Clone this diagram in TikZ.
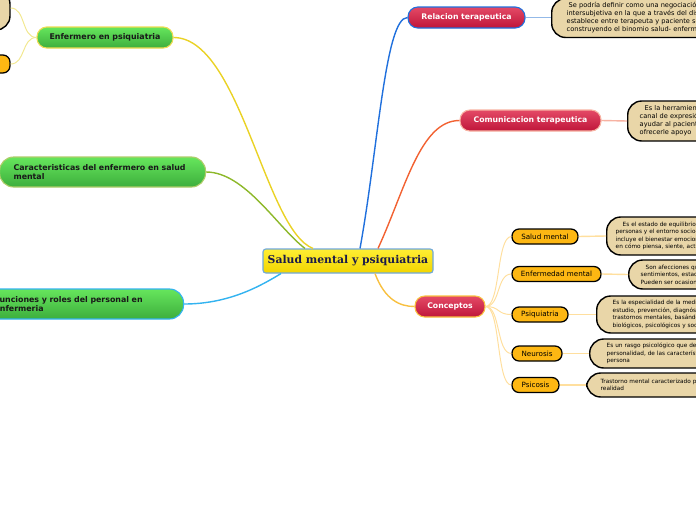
\documentclass[tikz,border=0pt]{standalone}
\usepackage{fontspec}
\setmainfont{DejaVu Sans}
\newfontfamily\titlefont{DejaVu Serif}
\usetikzlibrary{calc}

\newcommand\pxu{0.025cm}

\definecolor{cenTop}{HTML}{FFEE33}
\definecolor{cenBot}{HTML}{F2D500}
\definecolor{cenLine}{HTML}{6FA8DC}
\definecolor{cenText}{HTML}{1A1A4A}
\definecolor{grnTop}{HTML}{66E65C}
\definecolor{grnBot}{HTML}{3DAE3D}
\definecolor{redTop}{HTML}{E44A66}
\definecolor{redBot}{HTML}{BF153A}
\definecolor{subFill}{HTML}{FDB713}
\definecolor{noteFill}{HTML}{E9D6A8}
\definecolor{lnYellow}{HTML}{EAD225}
\definecolor{lnOlive}{HTML}{8DB82A}
\definecolor{lnSky}{HTML}{33B3F0}
\definecolor{lnBlue}{HTML}{2070DD}
\definecolor{lnOrange}{HTML}{F26232}
\definecolor{lnGold}{HTML}{F8C040}
\definecolor{lnPale}{HTML}{FFDF9E}
\definecolor{lnPaleBlue}{HTML}{93B9E8}
\definecolor{lnSalmon}{HTML}{F7B2A2}
\definecolor{lnPaleYel}{HTML}{F2E890}

\begin{document}
\begin{tikzpicture}[x=\pxu, y=-\pxu,
    central/.style={draw=cenLine, line width=0.8pt, top color=cenTop, bottom color=cenBot,
                    rounded corners=2pt, minimum width=170*\pxu, minimum height=24*\pxu,
                    inner sep=0pt, text=cenText, font=\titlefont\bfseries\fontsize{7.7}{8.5}\selectfont},
    topic/.style={line width=0.8pt, inner sep=0pt, align=center,
                  font=\bfseries\fontsize{5.6}{6.8}\selectfont},
    gtopic/.style={topic, top color=grnTop, bottom color=grnBot, text=black!90,
                   rounded corners=10pt, minimum height=30*\pxu},
    rtopic/.style={topic, top color=redTop, bottom color=redBot, text=white,
                   rounded corners=7pt, minimum height=21*\pxu, font=\bfseries\fontsize{5.5}{6.6}\selectfont},
    subbox/.style={draw=black, line width=0.9pt, fill=subFill, rounded corners=5pt,
                   minimum height=15*\pxu, inner sep=0pt, font=\fontsize{5.1}{6}\selectfont},
    note/.style={draw=black, line width=1pt, fill=noteFill, rounded corners=10pt,
                 anchor=west, align=left, text width=300*\pxu, inner ysep=0pt,
                 font=\fontsize{4.7}{5.7}\selectfont},
    snote/.style={note, font=\fontsize{4.1}{5.35}\selectfont},
    link/.style={line width=1pt},
    twig/.style={line width=0.7pt, lnPale}
]
\useasboundingbox (0,0) rectangle (696,520);
\clip (0,0) rectangle (696,520);

% ---- central topic ----
\node[central] (cen) at (348,261) {Salud mental y psiquiatria};

% ---- left branches ----
\node[gtopic, draw=lnYellow!80, minimum width=136*\pxu, minimum height=21*\pxu,
      rounded corners=7pt] (enf) at (105,37.5) {Enfermero en psiquiatria};
\node[gtopic, draw=lnOlive!70, anchor=west, align=left, text width=178*\pxu,
      inner xsep=14*\pxu] (car) at (-1,172)
      {Caracteristicas del enfermero en salud\\mental};
\node[gtopic, draw=lnSky, anchor=west, align=left, text width=175*\pxu,
      inner xsep=14*\pxu] (fun) at (-20,304)
      {Funciones y roles del personal en\\enfermeria};

\node[note, anchor=center, minimum width=70*\pxu, minimum height=40*\pxu,
      text width=0pt, inner xsep=0pt] (enf_note) at (-25,10) {};
\node[subbox, minimum width=50*\pxu, minimum height=18*\pxu] (enf_sub) at (-15,64) {};

% ---- right branches ----
\node[rtopic, draw=lnBlue, minimum width=117*\pxu] (rel) at (466.5,17.5) {Relacion terapeutica};
\node[rtopic, draw=lnSalmon, minimum width=141*\pxu] (com) at (530.5,120.5) {Comunicacion terapeutica};
\node[rtopic, draw=lnGold, minimum width=70*\pxu] (con) at (450,306.5) {Conceptos};

\node[note, minimum height=39*\pxu, inner xsep=15*\pxu] (rel_note) at (551,18)
    {\hspace*{1.4pt}Se podría definir como una negociación\\
     intersubjetiva en la que a través del discurso que se\\
     establece entre terapeuta y paciente se va\\
     construyendo el binomio salud- enfermedad};
\node[note, minimum height=40*\pxu, inner xsep=12*\pxu] (com_note) at (627,121)
    {\hspace*{3.5pt}Es la herramienta que\\canal de expresión\\ayudar al paciente a\\ofrecerle apoyo};

% ---- conceptos ----
\node[subbox, minimum width=66*\pxu] (salud)  at (545,236.5) {Salud mental};
\node[subbox, minimum width=89*\pxu] (enferm) at (556.5,274) {Enfermedad mental};
\node[subbox, minimum width=56*\pxu] (psiq)   at (540,314.5) {Psiquiatria};
\node[subbox, minimum width=50*\pxu] (neur)   at (537,353.5) {Neurosis};
\node[subbox, minimum width=47*\pxu] (psic)   at (535.5,385) {Psicosis};

\node[snote, minimum height=38*\pxu, inner xsep=9*\pxu] (salud_note) at (606,236)
    {\hspace*{5pt}Es el estado de equilibrio entre una\\personas y el entorno socio-cultural\\
     incluye el bienestar emocional\\en cómo piensa, siente, actúa};
\node[snote, minimum height=29*\pxu, inner xsep=12*\pxu] (enferm_note) at (628,274.5)
    {\hspace*{3.5pt}Son afecciones que\\sentimientos, estado de ánimo\\Pueden ser ocasionales};
\node[snote, minimum height=37*\pxu, inner xsep=16*\pxu] (psiq_note) at (596,314.5)
    {Es la especialidad de la medicina\\estudio, prevención, diagnóstico\\
     trastornos mentales, basándose\\biológicos, psicológicos y sociales};
\node[snote, minimum height=29*\pxu, inner xsep=17*\pxu] (neur_note) at (589,353.5)
    {Es un rasgo psicológico que define\\personalidad, de las características\\persona};
\node[snote, minimum height=24*\pxu, inner xsep=14*\pxu] (psic_note) at (586,385)
    {Trastorno mental caracterizado por\\realidad};

% ---- connectors from the centre ----
\draw[link, lnYellow] ($(cen.north)+(-35,0)$) .. controls (265,230) and (240,37.5) .. (enf.east);
\draw[link, lnOlive]  ($(cen.north)+(-43,0)$) .. controls (278,228) and (245,172) .. (car.east);
\draw[link, lnSky]    ($(cen.south)+(-67,0)$) .. controls (262,285) and (230,304) .. (fun.east);
\draw[link, lnBlue]   ($(cen.north)+(12,0)$)  .. controls (378,150) and (385,17.5) .. (rel.west);
\draw[link, lnOrange] ($(cen.north)+(30,0)$)  .. controls (405,190) and (420,120.5) .. (com.west);
\draw[link, lnGold]   ($(cen.south)+(27,0)$)  .. controls (385,300) and (400,306.5) .. (con.west);

% ---- twigs ----
\draw[twig, lnPaleYel] (enf.west) .. controls +(-15,0) and +(15,0) .. (enf_note.east |- 0,8);
\draw[twig, lnPaleYel] (enf.west) .. controls +(-15,0) and +(15,0) .. (enf_sub.east);
\draw[link, lnPaleBlue] (rel.east) -- (rel_note.west |- rel.east);
\draw[link, lnSalmon]   (com.east) -- (com_note.west);

\foreach \c in {salud, enferm, psiq, neur, psic} {
    \draw[twig] (con.east) .. controls +(15,0) and +(-15,0) .. (\c.west);
    \draw[link, lnPale] (\c.east) -- (\c_note.west);
}

\end{tikzpicture}
\end{document}
